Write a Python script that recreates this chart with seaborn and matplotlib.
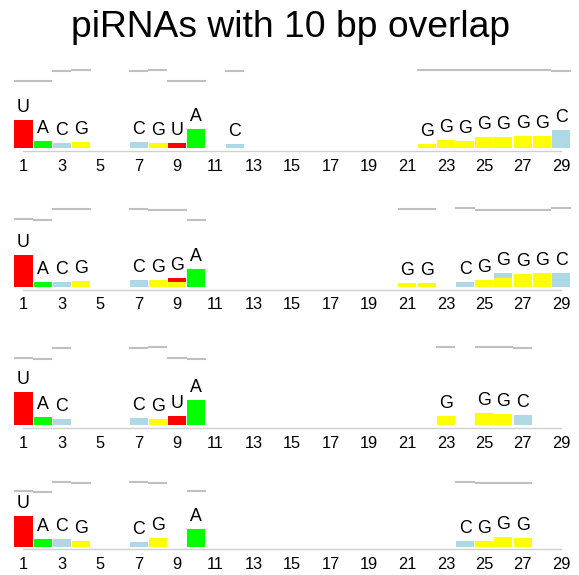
import numpy as np
import pandas as pd
import matplotlib
matplotlib.use("Agg")
import matplotlib.pyplot as plt
import seaborn as sns

# Nucleotide composition per read position for the four overlap groups.
# Each entry is (position, base, stacked height); a position may carry two bases.
pos_1 = [1, 2, 3, 4, 7, 8, 9, 10, 12, 22, 23, 24, 25, 26, 27, 28, 29]
base_1 = ["U", "A", "C", "G", "C", "G", "U", "A", "C", "G", "G", "G", "G", "G", "G", "G", "C"]
val_1 = [0.280, 0.073, 0.053, 0.063, 0.063, 0.053, 0.053, 0.190, 0.043,
         0.043, 0.083, 0.073, 0.113, 0.113, 0.123, 0.123, 0.183]

pos_2 = [1, 2, 3, 4, 7, 8, 9, 9, 10, 21, 22, 24, 25, 26, 26, 27, 28, 29]
base_2 = ["U", "A", "C", "G", "C", "G", "G", "U", "A", "G", "G", "C", "G", "G", "C", "G", "G", "C"]
val_2 = [0.317, 0.047, 0.047, 0.057, 0.067, 0.067, 0.047, 0.040, 0.177,
         0.037, 0.037, 0.047, 0.067, 0.087, 0.050, 0.127, 0.137, 0.137]

pos_3 = [1, 2, 3, 7, 8, 9, 10, 23, 25, 26, 27]
base_3 = ["U", "A", "C", "C", "G", "U", "A", "G", "G", "G", "C"]
val_3 = [0.333, 0.087, 0.067, 0.077, 0.067, 0.097, 0.253, 0.097, 0.127, 0.113, 0.107]

pos_4 = [1, 2, 3, 4, 7, 8, 10, 24, 25, 26, 27]
base_4 = ["U", "A", "C", "G", "C", "G", "A", "C", "G", "G", "G"]
val_4 = [0.370, 0.092, 0.092, 0.068, 0.056, 0.104, 0.213, 0.068, 0.068, 0.116, 0.104]

# Grey reference level drawn above each occupied position
line_pos_1 = [1, 2, 3, 4, 7, 8, 9, 10, 12, 22, 23, 24, 25, 26, 27, 28, 29]
line_1 = [0.673, 0.667, 0.770, 0.783, 0.773, 0.783, 0.673, 0.667, 0.773,
          0.780, 0.780, 0.780, 0.780, 0.780, 0.780, 0.780, 0.770]

line_pos_2 = [1, 2, 3, 4, 7, 8, 9, 10, 21, 22, 24, 25, 26, 27, 28, 29]
line_2 = [0.673, 0.670, 0.780, 0.773, 0.780, 0.770, 0.770, 0.670,
          0.773, 0.773, 0.783, 0.770, 0.770, 0.770, 0.770, 0.783]

line_pos_3 = [1, 2, 3, 7, 8, 9, 10, 23, 25, 26, 27]
line_3 = [0.670, 0.667, 0.770, 0.770, 0.783, 0.670, 0.667, 0.780, 0.783, 0.783, 0.773]

line_pos_4 = [1, 2, 3, 4, 7, 8, 10, 24, 25, 26, 27]
line_4 = [0.675, 0.663, 0.780, 0.767, 0.780, 0.767, 0.670, 0.783, 0.767, 0.767, 0.767]

tick_positions = list(range(1, 30, 2))
bases = ["U", "A", "C", "G"]
base_colors = {"U": "#ff0000", "A": "#00ff00", "C": "#add8e6", "G": "#ffff00"}
title = "piRNAs with 10 bp overlap"

sns.set_style("white")
plt.rcParams["font.family"] = ["Liberation Sans", "DejaVu Sans"]
plt.rcParams["text.color"] = "black"

W, H = 579, 575
fig = plt.figure(figsize=(W / 100, H / 100), dpi=100)

x_left, x_width = 13.9, 556.7
baselines = [148.0, 286.7, 425.3, 546.7]
scales = [100.0, 100.0, 100.0, 83.0]
y_lo, y_hi = -0.06, 0.90

panels = [
    (pos_1, base_1, val_1, line_pos_1, line_1),
    (pos_2, base_2, val_2, line_pos_2, line_2),
    (pos_3, base_3, val_3, line_pos_3, line_3),
    (pos_4, base_4, val_4, line_pos_4, line_4),
]

for (pos, base, val, lpos, lval), b_px, s in zip(panels, baselines, scales):
    bottom_px = b_px - y_lo * s
    top_px = b_px - y_hi * s
    ax = fig.add_axes([x_left / W, 1 - bottom_px / H, x_width / W, (bottom_px - top_px) / H])

    df = pd.DataFrame({"pos": pos, "base": base, "value": val})
    sns.histplot(data=df, x="pos", weights="value", hue="base", hue_order=bases,
                 palette=base_colors, multiple="stack", discrete=True, shrink=0.94,
                 alpha=1, linewidth=0, edgecolor="none", legend=False, ax=ax)

    # grey reference segments
    lp = np.asarray(lpos, dtype=float)
    ax.hlines(lval, lp - 0.5, lp + 0.5, color="#c0c0c0", linewidth=1.5)

    # dominant base above each stack
    for p, grp in df.groupby("pos"):
        total = grp["value"].sum()
        letter = grp.loc[grp["value"].idxmax(), "base"]
        ax.annotate(letter, (p, total), xytext=(0, 5.8), textcoords="offset points",
                    ha="center", va="baseline", fontsize=12.8, color="black")

    ax.set_xlim(0.5, 29.5)
    ax.set_ylim(y_lo, y_hi)
    ax.set_xlabel("")
    ax.set_ylabel("")
    ax.set_yticks([])
    for side in ("left", "top", "right"):
        ax.spines[side].set_visible(False)
    ax.spines["bottom"].set_position(("data", -0.03))
    ax.spines["bottom"].set_bounds(1, 29)
    ax.spines["bottom"].set_color("#d0d0d0")
    ax.spines["bottom"].set_linewidth(1.0)
    ax.set_xticks(tick_positions)
    ax.set_xticklabels([str(t) for t in tick_positions])
    ax.set_xticks(range(1, 30), minor=True)
    ax.tick_params(axis="x", which="both", direction="inout", length=2, width=0.8,
                   color="#b8b8b8", labelsize=11.8, labelcolor="black", pad=4.6)
    ax.patch.set_alpha(0)

fig.text(290.9 / W, 1 - 36.7 / H, title, ha="center", va="baseline",
         fontsize=26.8, color="black")

fig.savefig("out.png", dpi=100)
